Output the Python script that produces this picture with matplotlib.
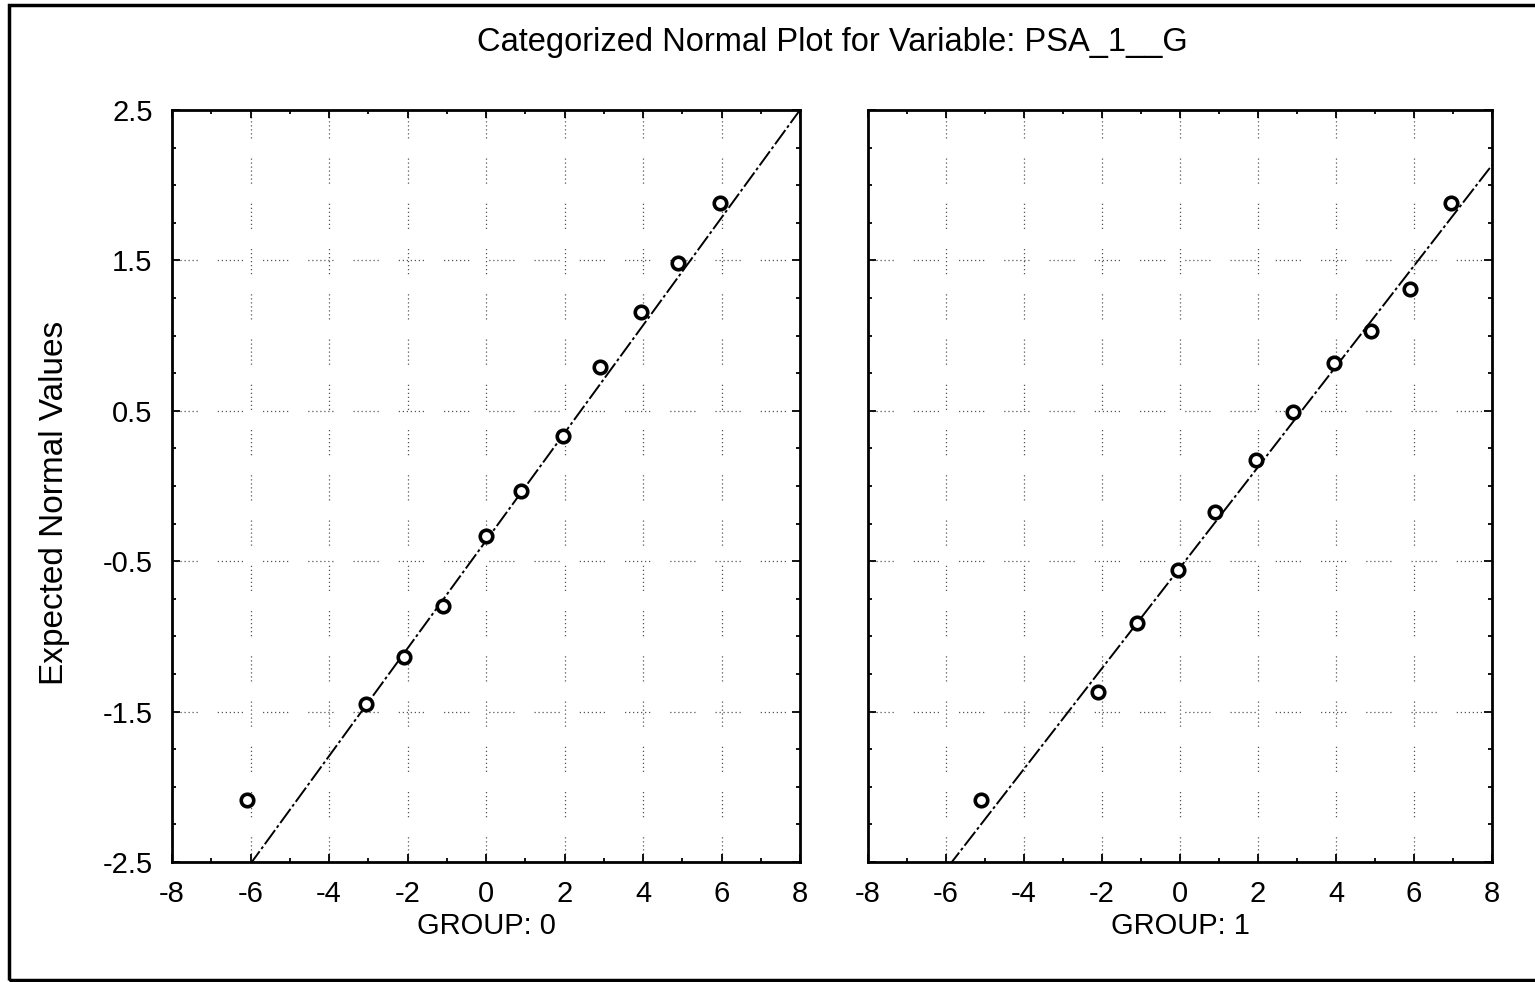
import numpy as np
import matplotlib
matplotlib.use("Agg")
import matplotlib.pyplot as plt
from matplotlib.patches import Rectangle
from matplotlib.ticker import MultipleLocator

plt.rcParams['font.family'] = ['Liberation Sans', 'DejaVu Sans']
plt.rcParams['axes.unicode_minus'] = False

# Observed values and expected normal values per group
group0_x = [-6.1, -3.05, -2.1, -1.1, 0.0, 0.9, 1.95, 2.9, 3.95, 4.9, 5.95]
group0_y = [-2.09, -1.45, -1.14, -0.80, -0.33, -0.03, 0.33, 0.79, 1.16, 1.48, 1.88]
group1_x = [-5.1, -2.1, -1.1, -0.05, 0.9, 1.95, 2.9, 3.95, 4.9, 5.9, 6.95]
group1_y = [-2.09, -1.37, -0.91, -0.56, -0.17, 0.17, 0.49, 0.82, 1.03, 1.31, 1.88]

# fitted lines (slope, intercept)
fit0 = (0.358, -0.364)
fit1 = (0.3345, -0.543)

groups = [("GROUP: 0", group0_x, group0_y, fit0),
          ("GROUP: 1", group1_x, group1_y, fit1)]

fig = plt.figure(figsize=(15.35, 9.82), dpi=100)
W, H = 1535, 982
boxes = [(172, 800), (868, 1492)]
top, bottom = 110, 862

grid_ls = (0, (1, 2.2, 1, 2.2, 1, 2.2, 1, 2.2, 1, 2.2, 1, 2.2, 1, 16))

for i, ((label, xs, ys, (m, b)), (x0, x1)) in enumerate(zip(groups, boxes)):
    ax = fig.add_axes([x0 / W, 1 - bottom / H, (x1 - x0) / W, (bottom - top) / H])
    ax.set_xlim(-8, 8)
    ax.set_ylim(-2.5, 2.5)
    ax.xaxis.set_major_locator(MultipleLocator(2))
    ax.xaxis.set_minor_locator(MultipleLocator(1))
    ax.set_yticks([-2.5, -1.5, -0.5, 0.5, 1.5, 2.5])
    ax.yaxis.set_minor_locator(MultipleLocator(0.25))
    ax.tick_params(which='both', direction='in', top=True, right=True,
                   width=1.3, labelsize=21)
    ax.tick_params(axis='x', pad=13)
    ax.tick_params(axis='y', pad=14)
    ax.tick_params(which='major', length=6)
    ax.tick_params(which='minor', length=3)
    for s in ax.spines.values():
        s.set_linewidth(2)
    ax.grid(True, which='major', color='#555555', linewidth=0.9, linestyle=grid_ls)
    if i == 1:
        ax.set_yticklabels([])
    else:
        ax.set_yticklabels(['-2.5', '-1.5', '-0.5', '0.5', '1.5', '2.5'])

    xx = np.array([-8.0, 8.0])
    ax.plot(xx, m * xx + b, color='black', linewidth=1.4,
            linestyle=(0, (9, 1.5, 1.5, 1.5)), zorder=3)
    ax.plot(xs, ys, linestyle='none', marker='o', markersize=9,
            markerfacecolor='white', markeredgecolor='black',
            markeredgewidth=2.6, zorder=4)
    ax.set_xlabel(label, fontsize=21, labelpad=3)

fig.text(832 / W, 1 - 42 / H, "Categorized Normal Plot for Variable: PSA_1__G",
         ha='center', va='center', fontsize=23.5)
fig.text(55 / W, 1 - 503 / H, "Expected Normal Values", rotation=90,
         ha='center', va='center', fontsize=24)

fig.patches.append(Rectangle((9 / W, 1 - 980 / H), 1.1, 975 / H,
                             transform=fig.transFigure, fill=False,
                             edgecolor='black', linewidth=2.5, clip_on=False))

fig.savefig("out.png", dpi=100)
